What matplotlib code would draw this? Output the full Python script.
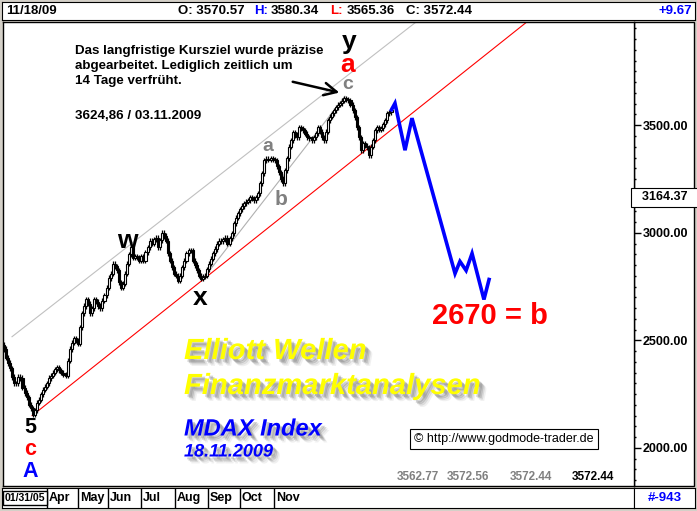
import matplotlib
matplotlib.use("Agg")
import matplotlib.pyplot as plt
import matplotlib.patheffects as pe
from matplotlib.patches import Rectangle
from matplotlib.ticker import MultipleLocator, FuncFormatter
from matplotlib.transforms import blended_transform_factory

plt.rcParams["font.family"] = ["Liberation Sans", "DejaVu Sans"]

W, H = 697, 511

# --------------------------
# Daten: Tagesschlusskurse (Feb - 18.11.2009), abgelesen aus dem Chart
# --------------------------
closes = [
    2460, 2420, 2395, 2370, 2330, 2300, 2300, 2330, 2325, 2280,
    2255, 2235, 2200, 2185, 2155, 2175, 2210, 2225, 2250, 2270,
    2285, 2300, 2325, 2335, 2350, 2365, 2375, 2360, 2350, 2340,
    2336, 2405, 2460, 2490, 2510, 2500, 2485, 2560, 2625, 2660,
    2690, 2670, 2625, 2650, 2690, 2680, 2660, 2650, 2685, 2710,
    2745, 2790, 2810, 2857, 2845, 2825, 2770, 2745, 2764, 2810,
    2857, 2900, 2932, 2885, 2890, 2885, 2871, 2890, 2871, 2910,
    2932, 2964, 2950, 2970, 2978, 2932, 2965, 3000, 2985, 2964,
    2904, 2870, 2839, 2810, 2801, 2778, 2800, 2839, 2870, 2904,
    2918, 2918, 2871, 2850, 2825, 2800, 2787, 2795, 2801, 2830,
    2857, 2880, 2904, 2925, 2950, 2964, 2960, 2970, 2978, 2950,
    2975, 2997, 3044, 3070, 3090, 3110, 3125, 3137, 3145, 3151,
    3165, 3160, 3151, 3165, 3183, 3230, 3276, 3337, 3345, 3340,
    3346, 3340, 3337, 3310, 3281, 3250, 3230, 3290, 3346, 3400,
    3430, 3467, 3455, 3444, 3491, 3485, 3477, 3460, 3444, 3440,
    3430, 3445, 3463, 3491, 3470, 3444, 3430, 3470, 3523, 3540,
    3556, 3570, 3584, 3595, 3602, 3615, 3626, 3620, 3616, 3595,
    3570, 3537, 3491, 3444, 3384, 3416, 3405, 3398, 3360, 3400,
    3430, 3477, 3491, 3480, 3486, 3505, 3523, 3556, 3561, 3572,
]
first_open = 2480
wick = 12

# Prognosepfad (blau)
proj_x = [189, 190.7, 195.6, 199, 220, 222.4, 225.4, 228.3, 234.1, 236.6]
proj_y = [3572, 3602, 3384, 3533, 2811, 2867, 2825, 2904, 2690, 2783]

# Trendkanal
red_x, red_y = [13.7, 255], [2150, 3980]
upper_x, upper_y = [3.9, 201], [2517, 3980]
inner_x, inner_y = [98, 166.3], [2797, 3635]

last_value = 3164.37
header_date = "11/18/09"
ohlc = {"O": "3570.57", "H": "3580.34", "L": "3565.36", "C": "3572.44"}
change = "+9.67"
months = ["Apr", "May", "Jun", "Jul", "Aug", "Sep", "Oct", "Nov"]
month_px = [49, 80, 110, 143, 177, 210, 242, 276]


def fbox(x0, y0, x1, y1):
    return [x0 / W, 1 - y1 / H, (x1 - x0) / W, (y1 - y0) / H]


fig = plt.figure(figsize=(W / 100, H / 100), dpi=100, facecolor="#d4d0c8")

# --------------------------
# Hauptchart
# --------------------------
ax = fig.add_axes(fbox(3, 22, 634, 486))
ax.set_facecolor("white")
ax.set_xlim(-0.5, 307.3)
ax.set_ylim(1823, 3980)

opens = [first_open] + closes[:-1]
for i, (o, c) in enumerate(zip(opens, closes)):
    lo, hi = min(o, c), max(o, c)
    ax.vlines(i, lo - wick, hi + wick, color="black", lw=0.9, zorder=3)
    up = c >= o
    ax.bar(i, max(hi - lo, 4), bottom=lo, width=1.0,
           color="white" if up else "black", edgecolor="black", lw=0.8, zorder=4)

ax.plot(red_x, red_y, color="red", lw=0.8, zorder=2)
ax.plot(upper_x, upper_y, color="#c0c0c0", lw=0.8, zorder=2)
ax.plot(inner_x, inner_y, color="#b0b0b0", lw=0.8, zorder=2)
ax.plot(proj_x, proj_y, color="#0000ff", lw=2.6, zorder=5, solid_joinstyle="miter")

# Elliott-Wellen-Beschriftung
lab = dict(ha="center", va="center", fontweight="bold", zorder=6)
ax.text(168.3, 3887, "y", color="black", fontsize=19, **lab)
ax.text(167.8, 3779, "a", color="red", fontsize=19, **lab)
ax.text(167.8, 3690, "c", color="#808080", fontsize=14, **lab)
ax.text(128.8, 3402, "a", color="#808080", fontsize=14, **lab)
ax.text(135.1, 3155, "b", color="#808080", fontsize=15, **lab)
ax.text(60, 2964, "w", color="black", fontsize=19, **lab)
ax.text(95.6, 2699, "x", color="black", fontsize=19, **lab)
ax.text(12.7, 2095, "5", color="black", fontsize=15.5, **lab)
ax.text(12.7, 1992, "c", color="red", fontsize=15.5, **lab)
ax.text(12.7, 1892, "A", color="#0000ff", fontsize=15.5, **lab)
ax.text(237, 2615, "2670 = b", color="red", fontsize=21, **lab)

ax.annotate("", xy=(164.9, 3649), xytext=(139.5, 3705),
            arrowprops=dict(arrowstyle="->,head_length=0.9,head_width=0.45",
                            lw=1.8, color="black"), zorder=6)

# Kommentar
note = ("Das langfristige Kursziel wurde präzise\n"
        "abgearbeitet. Lediglich zeitlich um\n"
        "14 Tage verfrüht.")
fig.text(75 / W, 1 - 45 / H, note, ha="left", va="top", fontsize=9.6,
         fontweight="bold", linespacing=1.32)
fig.text(75 / W, 1 - 116 / H, "3624,86 / 03.11.2009", ha="left", va="center",
         fontsize=9.6, fontweight="bold")

# Logo-Texte mit Schatten
def shadow():
    return [pe.SimplePatchShadow(offset=(2, -2), shadow_rgbFace="#505050", alpha=0.25),
            pe.SimplePatchShadow(offset=(3, -3), shadow_rgbFace="#505050", alpha=0.25),
            pe.SimplePatchShadow(offset=(4, -4), shadow_rgbFace="#808080", alpha=0.2),
            pe.SimplePatchShadow(offset=(5, -5), shadow_rgbFace="#a0a0a0", alpha=0.15),
            pe.Normal()]

logo = dict(ha="left", va="center", fontweight="bold", style="italic")
fig.text(184 / W, 1 - 351 / H, "Elliott Wellen", color="#ffff00", fontsize=21,
         path_effects=shadow(), **logo)
fig.text(184 / W, 1 - 386 / H, "Finanzmarktanalysen", color="#ffff00", fontsize=21,
         path_effects=shadow(), **logo)
fig.text(184 / W, 1 - 429 / H, "MDAX Index", color="#0000ff", fontsize=17,
         path_effects=shadow(), **logo)
fig.text(184 / W, 1 - 452 / H, "18.11.2009", color="#0000ff", fontsize=13,
         path_effects=shadow(), **logo)

fig.text(414 / W, 1 - 439 / H, "© http://www.godmode-trader.de", ha="left",
         va="center", fontsize=9,
         bbox=dict(boxstyle="square,pad=0.35", fc="white", ec="black", lw=0.8))

for px, s, col in [(397, "3562.77", "#808080"), (447, "3572.56", "#808080"),
                   (510, "3572.44", "#808080"), (572, "3572.44", "black")]:
    fig.text(px / W, 1 - 477 / H, s, color=col, fontsize=8.5, fontweight="bold",
             ha="left", va="center")

# rechte Preisachse
ax.set_xticks([])
ax.yaxis.tick_right()
ax.yaxis.set_major_locator(MultipleLocator(500))
ax.yaxis.set_minor_locator(MultipleLocator(50))
ax.yaxis.set_major_formatter(FuncFormatter(lambda v, _: f"{v:.2f}"))
ax.tick_params(axis="y", which="major", direction="out", length=5, width=1,
               pad=1, labelsize=9)
ax.tick_params(axis="y", which="minor", direction="out", length=1.5, width=1)
for t in ax.get_yticklabels():
    t.set_fontweight("bold")
for sp in ax.spines.values():
    sp.set_color("black")
    sp.set_linewidth(1)

tr = blended_transform_factory(ax.transAxes, ax.transData)
ax.text(1.001, last_value, f"  {last_value:.2f}   ", transform=tr, ha="left",
        va="center", fontsize=9, fontweight="bold", clip_on=False,
        bbox=dict(boxstyle="square,pad=0.3", fc="white", ec="black", lw=0.8))

fig.patches.append(Rectangle((634 / W, 1 - 486 / H), 60 / W, 464 / H,
                             transform=fig.transFigure, fc="white", ec="black",
                             lw=1, zorder=-1))

# --------------------------
# Kopfzeile
# --------------------------
hax = fig.add_axes(fbox(2, 2, 695, 20))
hax.set_xlim(2, 695)
hax.set_ylim(20, 2)
hax.set_xticks([])
hax.set_yticks([])
hk = dict(va="center", fontsize=9.5, fontweight="bold")
hax.text(6, 11, header_date, ha="left", **hk)
hax.text(178, 11, "O: " + ohlc["O"], ha="left", **hk)
hax.text(254, 11, "H:", ha="left", color="#0000ff", **hk)
hax.text(271, 11, ohlc["H"], ha="left", **hk)
hax.text(330, 11, "L:", ha="left", color="red", **hk)
hax.text(347, 11, ohlc["L"], ha="left", **hk)
hax.text(406, 11, "C: " + ohlc["C"], ha="left", **hk)
hax.text(692, 11, change, ha="right", color="#0000ff", **hk)

# --------------------------
# Fußzeile (Zeitnavigator)
# --------------------------
bax = fig.add_axes(fbox(2, 488, 634, 508))
bax.set_xlim(2, 634)
bax.set_ylim(508, 488)
bax.set_xticks([])
bax.set_yticks([])
bax.text(5, 498, "01/31/05", ha="left", va="center", fontsize=7.6, fontweight="bold",
         bbox=dict(boxstyle="square,pad=0.15", fc="white", ec="black", lw=1))
for px, m in zip(month_px, months):
    bax.axvline(px - 2, color="black", lw=1)
    bax.text(px, 498, m, ha="left", va="center", fontsize=9, fontweight="bold")

rax = fig.add_axes(fbox(634, 488, 695, 508))
rax.set_xticks([])
rax.set_yticks([])
rax.text(0.5, 0.5, "#-943", ha="center", va="center", color="#0000ff",
         fontsize=9.5, fontweight="bold", transform=rax.transAxes)

fig.savefig("out.png", dpi=100, facecolor=fig.get_facecolor())
